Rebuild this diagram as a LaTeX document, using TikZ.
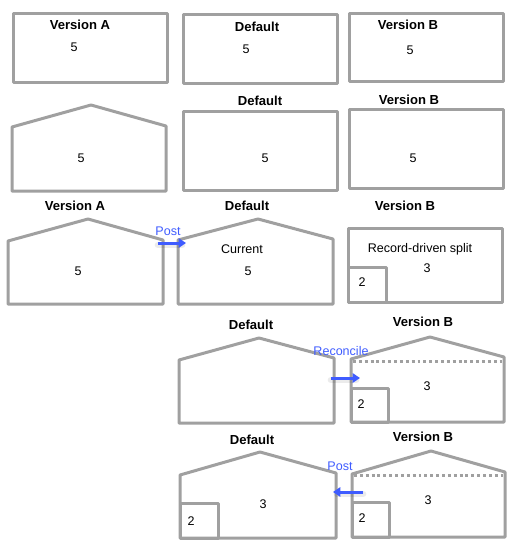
\documentclass[tikz,border=0pt]{standalone}
\usepackage{fontspec}
\setmainfont{Liberation Sans}
\usetikzlibrary{arrows.meta}
\definecolor{wallgray}{HTML}{A0A0A0}
\definecolor{flowblue}{HTML}{3F5CFF}
\tikzset{wall/.style={draw=wallgray, line width=2.25pt, line join=round},
    dotwall/.style={draw=wallgray, line width=2.25pt, dash pattern=on 2.2pt off 2.2pt},
    title/.style={font=\bfseries\fontsize{9.8}{11}\selectfont, inner sep=0pt},
    amount/.style={font=\fontsize{9.4}{11}\selectfont, inner sep=0pt},
    flow/.style={draw=flowblue, line width=2.25pt, -{Triangle[length=5.5pt,width=7pt]}},
    flowshade/.style={draw=black, opacity=0.08, line width=5pt, line cap=round},
    flowtext/.style={font=\fontsize{9.4}{11}\selectfont, text=flowblue, inner sep=0pt}}

\begin{document}
\begin{tikzpicture}[x=0.75pt,y=-0.75pt]
    \useasboundingbox (0,0) rectangle (513,549);
    %
    % first row: three plain versions
    \draw[wall] (13,14) rectangle (167,83);
    \draw[wall] (183,15) rectangle (337,84);
    \draw[wall] (349,14) rectangle (503,82);
    \node[title] (verA1) at (80,25) {Version A};
    \node[title] (def1) at (257,27) {Default};
    \node[title] (verB1) at (408,25) {Version B};
    \node[amount] (valA1) at (74,47) {5};
    \node[amount] (valD1) at (246,49) {5};
    \node[amount] (valB1) at (410,50) {5};
    %
    % second row
    \draw[wall] (12,127) -- (91,105) -- (166,126) -- (166,191) -- (12,191) -- cycle;
    \draw[wall] (183,112) rectangle (337,190);
    \draw[wall] (349,110) rectangle (503,188);
    \node[title] (def2) at (260,101) {Default};
    \node[title] (verB2) at (409,100) {Version B};
    \node[amount] (valA2) at (81,158) {5};
    \node[amount] (valD2) at (265,158) {5};
    \node[amount] (valB2) at (413,158) {5};
    %
    % third row: post from version A
    \draw[wall] (8,241) -- (88,219) -- (163,240) -- (163,304) -- (8,304) -- cycle;
    \draw[wall] (178,240) -- (258,219) -- (333,239) -- (333,304) -- (178,304) -- cycle;
    \draw[wall] (348,228) rectangle (502,302);
    \draw[wall] (348,267) rectangle (386,302);
    \node[title] (verA3) at (75,206) {Version A};
    \node[title] (def3) at (247,206) {Default};
    \node[title] (verB3) at (405,206) {Version B};
    \node[amount] (valA3) at (78,271) {5};
    \node[amount] (cur3) at (242,249) {Current};
    \node[amount] (valD3) at (248,271) {5};
    \node[amount] (rec3) at (420,249) {Record-driven split};
    \node[amount] (valB3) at (427,268) {3};
    \node[amount] (sub3) at (362,282) {2};
    \coordinate (postA) at (158,243);
    \coordinate (postD) at (186,243);
    \draw[flowshade] ([yshift=-1.5pt]postA) -- ([yshift=-1.5pt,xshift=-3pt]postD);
    \draw[flow] (postA) -- (postD);
    \node[flowtext] (postlbl3) at (168,231) {Post};
    %
    % fourth row: reconcile into version B
    \draw[wall] (179,360) -- (259,338) -- (334,358) -- (334,423) -- (179,423) -- cycle;
    \draw[wall] (351,359) -- (430,337) -- (504,357) -- (504,422) -- (351,422) -- cycle;
    \draw[dotwall] (353,361) -- (502,361);
    \draw[wall] (351,388) rectangle (388,422);
    \node[title] (def4) at (251,325) {Default};
    \node[title] (verB4) at (423,322) {Version B};
    \node[amount] (valB4) at (427,386) {3};
    \node[amount] (sub4) at (361,404) {2};
    \coordinate (recD) at (331,378);
    \coordinate (recB) at (360,378);
    \draw[flowshade] ([yshift=-1.5pt]recD) -- ([yshift=-1.5pt,xshift=-3pt]recB);
    \draw[flow] (recD) -- (recB);
    \node[flowtext] (reclbl4) at (341,351) {Reconcile};
    %
    % fifth row: post back to default
    \draw[wall] (180,475) -- (260,452) -- (336,473) -- (336,538) -- (180,538) -- cycle;
    \draw[wall] (180,503) rectangle (218,538);
    \draw[wall] (352,474) -- (431,451) -- (505,472) -- (505,537) -- (352,537) -- cycle;
    \draw[dotwall] (354,475) -- (503,475);
    \draw[wall] (352,502) rectangle (389,537);
    \node[title] (def5) at (252,440) {Default};
    \node[title] (verB5) at (423,437) {Version B};
    \node[amount] (valD5) at (263,504) {3};
    \node[amount] (subD5) at (191,521) {2};
    \node[amount] (valB5) at (428,500) {3};
    \node[amount] (subB5) at (362,518) {2};
    \coordinate (postB) at (363,492);
    \coordinate (postD5) at (333,492);
    \draw[flowshade] ([yshift=-1.5pt]postB) -- ([yshift=-1.5pt,xshift=3pt]postD5);
    \draw[flow] (postB) -- (postD5);
    \node[flowtext] (postlbl5) at (340,466) {Post};
\end{tikzpicture}
\end{document}
